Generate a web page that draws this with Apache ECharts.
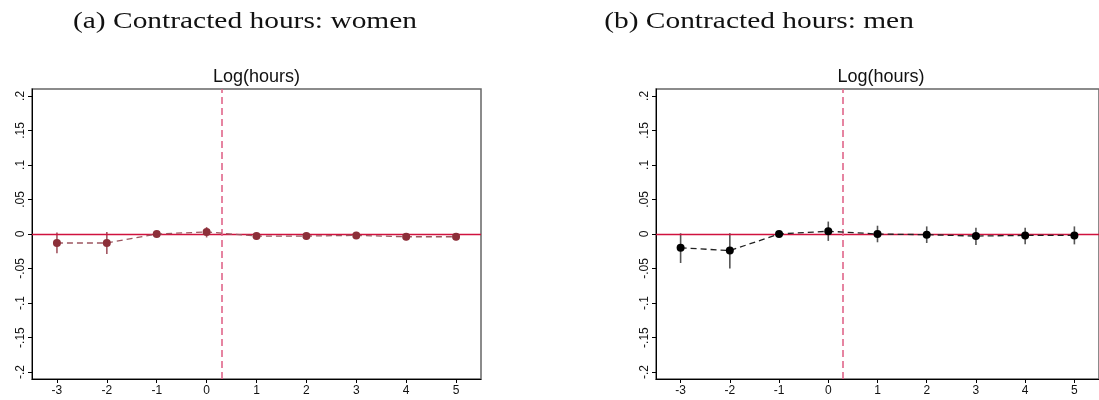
<!DOCTYPE html>
<html>
<head>
<meta charset="utf-8">
<script src="https://cdn.jsdelivr.net/npm/echarts@6/dist/echarts.min.js"></script>
<style>
html,body{margin:0;padding:0;background:#fff;}
#chart{width:1099px;height:400px;}
</style>
</head>
<body>
<div id="chart"></div>
<script>
// ---- data ----
const periods = [-3, -2, -1, 0, 1, 2, 3, 4, 5];
const xTickValues = [-3, -2, -1, 0, 1, 2, 3, 4, 5];
const yTickValues = [-0.2, -0.15, -0.1, -0.05, 0, 0.05, 0.1, 0.15, 0.2];

const womenCoef = [-0.013, -0.013, 0.000, 0.003, -0.003, -0.003, -0.002, -0.004, -0.004];
const womenLo   = [-0.028, -0.029, 0.000, -0.005, -0.008, -0.008, -0.007, -0.009, -0.009];
const womenHi   = [ 0.002,  0.003, 0.000,  0.010,  0.002,  0.002,  0.003,  0.001,  0.001];

const menCoef = [-0.020, -0.024, 0.000, 0.004, 0.000, -0.001, -0.003, -0.002, -0.002];
const menLo   = [-0.042, -0.050, 0.000, -0.010, -0.012, -0.013, -0.016, -0.015, -0.015];
const menHi   = [ 0.001,  0.001, 0.000,  0.018,  0.012,  0.011,  0.009,  0.009,  0.011];

const eventLine = 0.3;
const panelTitles = ['(a) Contracted hours: women', '(b) Contracted hours: men'];
const plotTitle = 'Log(hours)';

// ---- chart ----
const chart = echarts.init(document.getElementById('chart'), null, {renderer: 'canvas'});

const titleFont = '24px "Liberation Serif"';
const cv = document.createElement('canvas').getContext('2d');
cv.font = titleFont;
const titleScale = 344 / cv.measureText(panelTitles[0]).width;

function yFmt(v) {
  if (Math.abs(v) < 1e-9) return '0';
  return (v < 0 ? '-' : '') + String(+Math.abs(v).toFixed(2)).replace(/^0/, '');
}

const grids = [
  {left: 32, top: 89, width: 449, height: 290},
  {left: 656, top: 89, width: 450, height: 290}
];

function xAxis(i) {
  return {
    type: 'value', gridIndex: i, min: -3.5, max: 5.5,
    axisLine: {show: true, onZero: false, lineStyle: {color: '#000', width: 1}},
    axisTick: {show: true, length: 4, customValues: xTickValues, lineStyle: {color: '#000'}},
    axisLabel: {customValues: xTickValues, color: '#111', fontSize: 12, fontFamily: 'Liberation Sans', margin: 6},
    splitLine: {show: false}
  };
}
function yAxis(i) {
  return {
    type: 'value', gridIndex: i, min: -0.21, max: 0.21,
    axisLine: {show: true, onZero: false, lineStyle: {color: '#000', width: 1}},
    axisTick: {show: true, length: 4, customValues: yTickValues, lineStyle: {color: '#000'}},
    axisLabel: {customValues: yTickValues, rotate: 90, formatter: yFmt, color: '#111', fontSize: 12, fontFamily: 'Liberation Sans', margin: 5},
    splitLine: {show: false}
  };
}

function errSeries(i, lo, hi, color) {
  return {
    type: 'custom', xAxisIndex: i, yAxisIndex: i, z: 2,
    data: periods.map((p, k) => [p, lo[k], hi[k]]),
    renderItem: function (params, api) {
      const a = api.coord([api.value(0), api.value(1)]);
      const b = api.coord([api.value(0), api.value(2)]);
      return {type: 'line', shape: {x1: a[0], y1: a[1], x2: b[0], y2: b[1]}, style: {stroke: color, lineWidth: 1.6}};
    }
  };
}

function pointSeries(i, coef, markerColor, lineColor) {
  return {
    type: 'line', xAxisIndex: i, yAxisIndex: i, z: 4,
    data: periods.map((p, k) => [p, coef[k]]),
    symbol: 'circle', symbolSize: 8,
    itemStyle: {color: markerColor},
    lineStyle: {color: lineColor, width: 1.3, type: [6, 4]},
    markLine: {
      silent: true, symbol: 'none', label: {show: false}, z: 3,
      data: [
        {yAxis: 0, lineStyle: {color: '#d0123e', width: 1.3, type: 'solid'}},
        {xAxis: eventLine, lineStyle: {color: '#e0668a', width: 1.6, type: [7, 4]}}
      ]
    }
  };
}

const option = {
  animation: false,
  backgroundColor: '#fff',
  grid: grids.map(g => Object.assign({show: true, borderColor: '#666', borderWidth: 1.5, backgroundColor: '#fff'}, g)),
  xAxis: [xAxis(0), xAxis(1)],
  yAxis: [yAxis(0), yAxis(1)],
  series: [
    errSeries(0, womenLo, womenHi, '#a25560'),
    pointSeries(0, womenCoef, '#8c2f39', '#9c5660'),
    errSeries(1, menLo, menHi, '#555'),
    pointSeries(1, menCoef, '#000', '#222')
  ],
  graphic: [
    {type: 'text', x: 245, y: 22, scaleX: titleScale, style: {text: panelTitles[0], font: titleFont, fill: '#111', textAlign: 'center', textVerticalAlign: 'middle'}},
    {type: 'text', x: 759, y: 22, scaleX: titleScale, style: {text: panelTitles[1], font: titleFont, fill: '#111', textAlign: 'center', textVerticalAlign: 'middle'}},
    {type: 'text', x: 256.5, y: 77, style: {text: plotTitle, font: '18px "Liberation Sans"', fill: '#111', textAlign: 'center', textVerticalAlign: 'middle'}},
    {type: 'text', x: 881, y: 77, style: {text: plotTitle, font: '18px "Liberation Sans"', fill: '#111', textAlign: 'center', textVerticalAlign: 'middle'}}
  ]
};
chart.setOption(option);
</script>
</body>
</html>
